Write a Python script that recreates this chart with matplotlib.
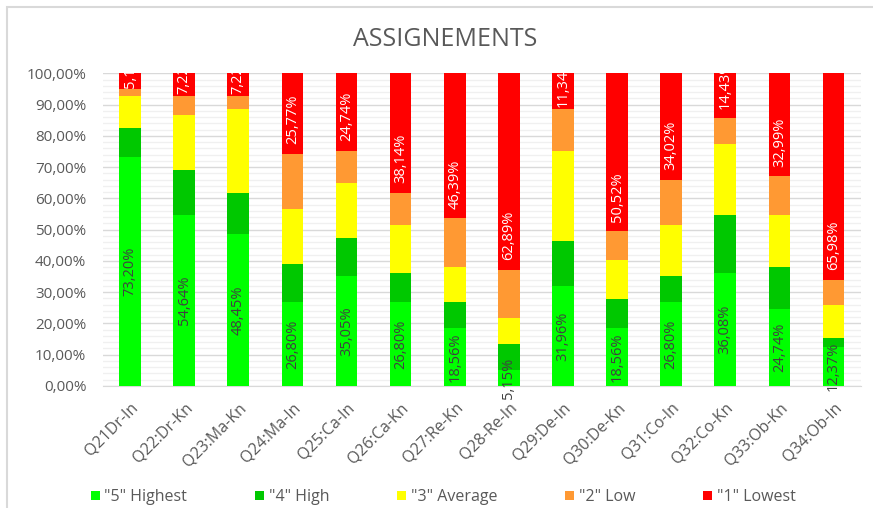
import matplotlib
matplotlib.use('Agg')
import matplotlib.pyplot as plt
from matplotlib.ticker import MultipleLocator, FuncFormatter
from matplotlib.transforms import Bbox, TransformedBbox
from matplotlib.patches import Rectangle
import numpy as np

plt.rcParams['font.family'] = ['Open Sans', 'DejaVu Sans']

# data (percent of answers)
questions = ['Q21Dr-In', 'Q22:Dr-Kn', 'Q23:Ma-Kn', 'Q24:Ma-In', 'Q25:Ca-In', 'Q26:Ca-Kn', 'Q27:Re-Kn',
             'Q28-Re-In', 'Q29:De-In', 'Q30:De-Kn', 'Q31:Co-In', 'Q32:Co-Kn', 'Q33:Ob-Kn', 'Q34:Ob-In']
highest = [73.20, 54.64, 48.45, 26.80, 35.05, 26.80, 18.56, 5.15, 31.96, 18.56, 26.80, 36.08, 24.74, 12.37]
high = [9.28, 14.43, 13.40, 12.37, 12.37, 9.28, 8.25, 8.25, 14.43, 9.28, 8.25, 18.56, 13.40, 3.09]
average = [10.31, 17.53, 26.80, 17.53, 17.53, 15.46, 11.34, 8.25, 28.87, 12.37, 16.49, 22.68, 16.49, 10.31]
low = [2.06, 6.19, 4.12, 17.53, 10.31, 10.31, 15.46, 15.46, 13.40, 9.28, 14.43, 8.25, 12.37, 8.25]
lowest = [5.15, 7.22, 7.22, 25.77, 24.74, 38.14, 46.39, 62.89, 11.34, 50.52, 34.02, 14.43, 32.99, 65.98]

series = [('"5" Highest', highest, '#00ff00'),
          ('"4" High', high, '#00c800'),
          ('"3" Average', average, '#ffff00'),
          ('"2" Low', low, '#ff9933'),
          ('"1" Lowest', lowest, '#ff0000')]

def pct(v):
    return ('%.2f%%' % v).replace('.', ',')

fig = plt.figure(figsize=(8.73, 5.08), dpi=100)
ax = fig.add_axes([0.118, 0.2402, 0.8677, 0.6155])

# chart border (cut off at right/bottom like the screenshot)
fig.patches.append(Rectangle((7 / 873, -0.05), 1.0, 1 - 7 / 508 + 0.05, transform=fig.transFigure,
                             fill=False, edgecolor='#d9d9d9', lw=1.5))

x = np.arange(len(questions))
bottom = np.zeros(len(questions))
for name, vals, col in series:
    ax.bar(x, vals, 0.4, bottom=bottom, color=col, label=name, zorder=3)
    bottom += np.array(vals)

clip = TransformedBbox(Bbox.from_extents(-0.1, -0.5, 1.1, 1.0), ax.transAxes)
for i in range(len(questions)):
    # "5" labels centred in the segment
    t = ax.text(x[i], highest[i] / 2, pct(highest[i]), rotation=90,
                ha='center', va='center', fontsize=10.5, color='#404040', zorder=5)
    t.set_clip_box(clip)
    t.set_clip_on(True)
    # "1" labels at the base of the red segment
    pad = 7 if lowest[i] > 12 else 1
    t = ax.annotate(pct(lowest[i]), xy=(x[i], 100 - lowest[i]), xytext=(0, pad),
                    textcoords='offset points', rotation=90, ha='center', va='bottom',
                    fontsize=10.5, color='white', zorder=5, annotation_clip=False)
    t.set_clip_box(clip)
    t.set_clip_on(True)

ax.set_xlim(-0.5, len(questions) - 0.5)
ax.set_ylim(0, 100)
ax.yaxis.set_major_locator(MultipleLocator(10))
ax.yaxis.set_minor_locator(MultipleLocator(2))
ax.yaxis.set_major_formatter(FuncFormatter(lambda v, p: pct(v)))
ax.grid(axis='y', which='major', color='#d9d9d9', lw=1, zorder=0)
ax.grid(axis='y', which='minor', color='#f0f0f0', lw=1, zorder=0)
for s in ['top', 'right', 'left']:
    ax.spines[s].set_visible(False)
ax.spines['bottom'].set_color('#d9d9d9')
ax.tick_params(axis='both', which='both', length=0, colors='#595959', labelsize=11)
ax.tick_params(axis='y', pad=12)
ax.tick_params(axis='x', pad=10, labelsize=11.5)
ax.set_xticks(x)
ax.set_xticklabels(questions, rotation=45, ha='right', rotation_mode='anchor')

fig.text(0.51, 0.922, 'ASSIGNEMENTS', ha='center', va='center', fontsize=18, color='#595959')

ax.legend(loc='center', bbox_to_anchor=(0.449, -0.355), ncol=5, frameon=False, fontsize=11.5,
          handlelength=0.55, handleheight=0.55, columnspacing=4.25, handletextpad=0.3,
          labelcolor='#595959')

fig.savefig('out.png', dpi=100)
